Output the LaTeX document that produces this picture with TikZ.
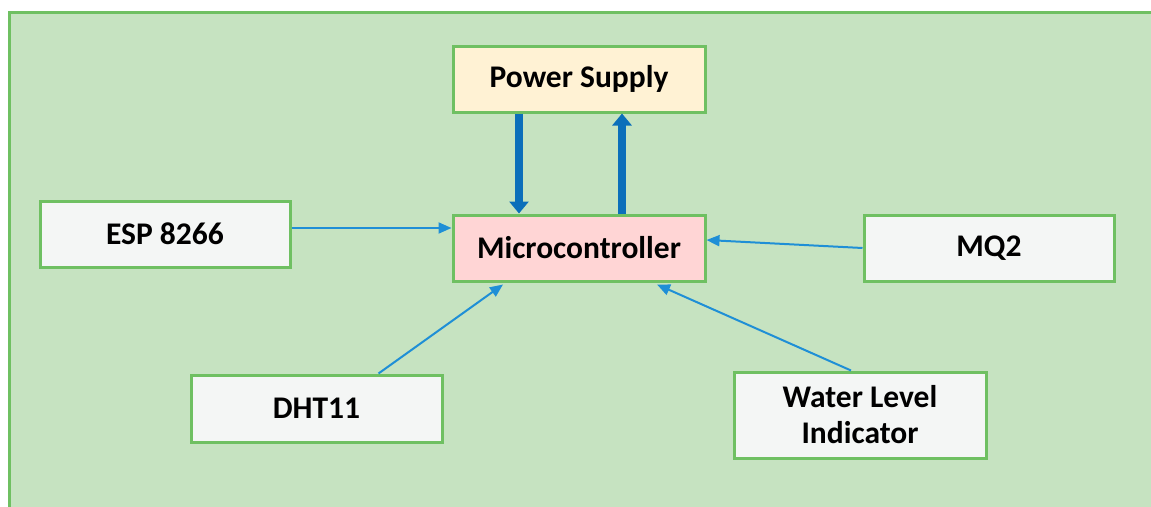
\documentclass[tikz,border=0pt]{standalone}
\usepackage{fontspec}
\setmainfont{Carlito}
\usetikzlibrary{arrows.meta,calc}
\definecolor{bgfill}{HTML}{C6E3C1}
\definecolor{bgline}{HTML}{6FC062}
\definecolor{boxfill}{HTML}{F4F6F5}
\definecolor{psfill}{HTML}{FFF2D4}
\definecolor{mcfill}{HTML}{FFD5D5}
\definecolor{thinblue}{HTML}{1F8FD6}
\definecolor{thickblue}{HTML}{0B6FBA}
\tikzset{
  blk/.style={draw=bgline, line width=3pt, fill=boxfill, minimum width=250pt, minimum height=66pt,
    inner sep=0pt, align=center, font=\fontsize{31.5}{36}\selectfont\bfseries},
  thin/.style={draw=thinblue, line width=2pt, -{Triangle[width=11pt,length=13pt]}},
  thick/.style={draw=thickblue, line width=8pt, -{Triangle[width=19pt,length=12pt]}}
}
\begin{document}
\begin{tikzpicture}[x=1pt,y=-1pt]
\useasboundingbox (0,0) rectangle (1151,506);
\clip (0,0) rectangle (1151,506);
\fill[white] (-5,-5) rectangle (1160,515);
\fill[bgfill] (9,12) rectangle (1165,520);
\draw[bgline, line width=3pt] (9,520) -- (9,12) -- (1165,12);
\node[blk, fill=psfill, minimum width=252pt] (ps) at (579,79) {Power Supply};
\node[blk, fill=mcfill, minimum width=252pt] (mc) at (579,248) {Microcontroller};
\node[blk] (esp) at (165,234) {ESP 8266};
\node[blk] (mq) at (989,248) {MQ2};
\node[blk, minimum width=251pt, minimum height=67pt] (dht) at (316.5,408.5) {DHT11};
\node[blk, minimum width=252pt, minimum height=86pt] (wl) at (860,415) {Water Level\\Indicator};
\draw[thin] ($(esp.east)+(0,-6)$) -- ($(esp.east -| mc.west)+(0,-6)$);
\draw[thin] (mq.west) -- ($(mc.east)+(0,-8)$);
\draw[thin] ($(dht.north)+(62,0)$) -- ($(mc.south)+(-76,2)$);
\draw[thin] ($(wl.north)+(-9,0)$) -- ($(mc.south)+(78,2)$);
\draw[thick] ($(ps.south)+(-60,0)$) -- ($(mc.north)+(-60,0)$);
\draw[thick] ($(mc.north)+(43,0)$) -- ($(ps.south)+(43,0)$);
\end{tikzpicture}
\end{document}
